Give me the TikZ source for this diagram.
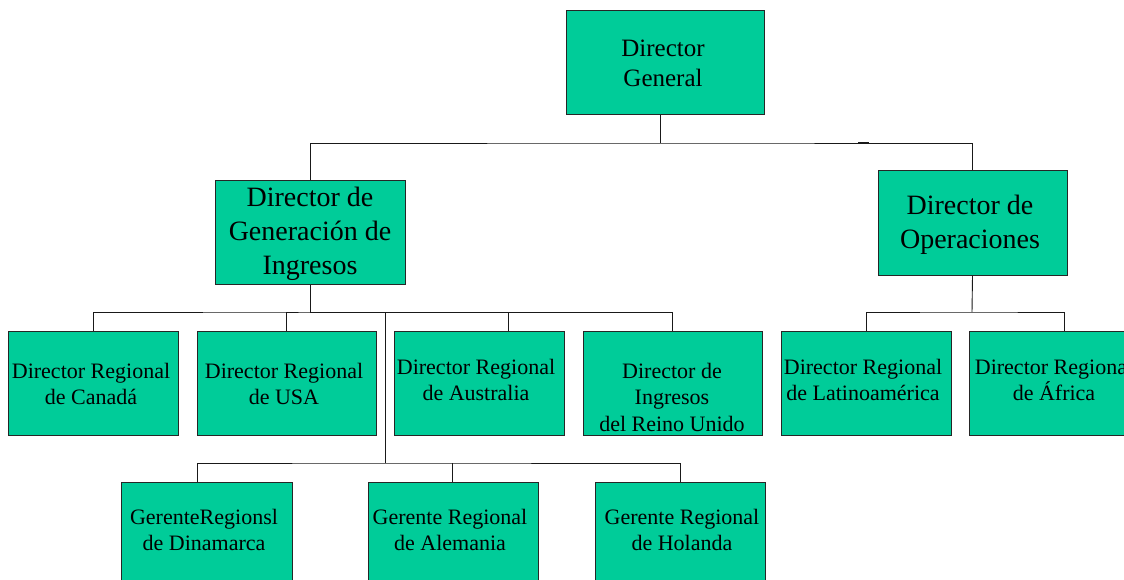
\documentclass[tikz,border=0pt]{standalone}
\usepackage{fontspec}
\setmainfont{Liberation Serif}
\definecolor{boxgreen}{RGB}{0,204,153}
\begin{document}
\begin{tikzpicture}[x=1pt,y=-1pt,
  box/.style={draw=black!85, line width=1pt, fill=boxgreen, inner sep=0pt},
  txt/.style={align=center, inner sep=0pt, font=\fontsize{22}{26.5}\selectfont},
  big/.style={txt, font=\fontsize{25}{30}\selectfont},
  huge/.style={txt, font=\fontsize{28}{34}\selectfont},
  link/.style={draw=black!90, line width=0.9pt}]
\useasboundingbox (0,0) rectangle (1124,580);
\clip (0,0) rectangle (1124,580);
\fill[white] (0,0) rectangle (1124,580);

% --- boxes ---
\node[box, minimum width=198, minimum height=104] (dg)  at (665,63) {};
\node[box, minimum width=190, minimum height=103] (dgi) at (310,232.5) {};
\node[box, minimum width=189, minimum height=104] (dop) at (972.5,223) {};

\node[box, minimum width=170, minimum height=104] (can) at (93,383) {};
\node[box, minimum width=179, minimum height=104] (usa) at (286.5,383) {};
\node[box, minimum width=170, minimum height=104] (aus) at (479,383) {};
\node[box, minimum width=179, minimum height=104] (ruk) at (672.5,383) {};
\node[box, minimum width=170, minimum height=104] (lat) at (866,383) {};
\node[box, minimum width=170, minimum height=104] (afr) at (1054,383) {};

\node[box, minimum width=171, minimum height=130] (din) at (206.5,547) {};
\node[box, minimum width=170, minimum height=130] (ale) at (453,547) {};
\node[box, minimum width=170, minimum height=130] (hol) at (680,547) {};

% --- labels ---
\node[big]  (dgT)  at (663,63)  {Director\\General};
\node[huge] (dgiT) at (310,234) {Director de\\Generación de\\Ingresos};
\node[huge] (dopT) at (970,225) {Director de\\Operaciones};

\node[txt] (canT) at (91,384)  {Director Regional\\de Canadá};
\node[txt] (usaT) at (284,384) {Director Regional\\de USA};
\node[txt] (ausT) at (476,380) {Director Regional\\de Australia};
\node[txt] (rukT) at (672,397) {Director de\\Ingresos\\del Reino Unido};
\node[txt] (latT) at (863,380) {Director Regional\\de Latinoamérica};
\node[txt] (afrT) at (1054,380) {Director Regional\\de África};

\node[txt] (dinT) at (204,530) {GerenteRegionsl\\de Dinamarca};
\node[txt] (aleT) at (450,530) {Gerente Regional\\de Alemania};
\node[txt] (holT) at (682,530) {Gerente Regional\\de Holanda};

% --- bus points ---
\coordinate (b1) at (660,143);
\coordinate (b2) at (310,312);
\coordinate (b3) at (385,463);
\coordinate (b4) at (972,312);
\coordinate (ausIn) at (508,331);
\coordinate (afrIn) at (1064,331);
\coordinate (dinIn) at (197,482);
\coordinate (aleIn) at (452,482);

% --- connectors ---
\draw[link] (b1 |- dg.south) -- (b1);
\draw[link] (dgi.north) |- (b1) -| (dop.north);
\draw[link, line width=2pt] (858,143) -- (869,143);

\draw[link] (dgi.south) -- (b2);
\draw[link] (can.north) |- (b2) -| (usa.north);
\draw[link] (b2) -| (ausIn);
\draw[link] (ausIn |- b2) -| (ruk.north);

\draw[link] (b3 |- b2) -- (b3);
\draw[link] (dinIn) |- (b3) -| (hol.north);
\draw[link] (aleIn |- b3) -- (aleIn);

\draw[link] (dop.south) -- (b4);
\draw[link] (lat.north) |- (b4) -| (afrIn);
\end{tikzpicture}
\end{document}
